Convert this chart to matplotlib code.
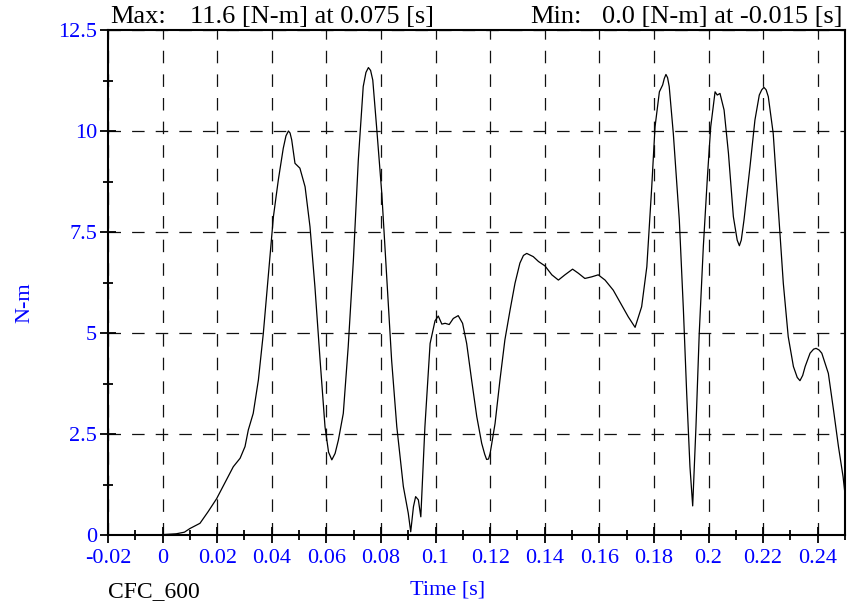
import matplotlib
matplotlib.use("Agg")
import matplotlib.pyplot as plt
from matplotlib.ticker import MultipleLocator, FormatStrFormatter

# torque trace (time [s], torque [N-m])
time_s = [
    -0.015, -0.005, 0.0, 0.005, 0.008, 0.010, 0.0137, 0.0167, 0.0198, 0.0225,
    0.0259, 0.0284, 0.0302, 0.0314, 0.0332, 0.0351, 0.0369, 0.0387, 0.0406,
    0.0424, 0.0442, 0.0452, 0.0461, 0.0467, 0.0473, 0.0485, 0.0503, 0.0522,
    0.0540, 0.0558, 0.0577, 0.0595, 0.0608, 0.0620, 0.0632, 0.0644, 0.0662,
    0.0680, 0.0699, 0.0717, 0.0735, 0.0745, 0.0754, 0.0762, 0.0770, 0.0784,
    0.0803, 0.0821, 0.0839, 0.0858, 0.0882, 0.0900, 0.0909, 0.0919, 0.0927,
    0.0937, 0.0946, 0.0961, 0.0980, 0.0998, 0.1010, 0.1023, 0.1035, 0.1050,
    0.1065, 0.1083, 0.1099, 0.1114, 0.1132, 0.1151, 0.1169, 0.1180, 0.1187,
    0.1194, 0.1200, 0.1218, 0.1236, 0.1254, 0.1273, 0.1291, 0.1309, 0.1322,
    0.1334, 0.1358, 0.1377, 0.1401, 0.1426, 0.1450, 0.1474, 0.1502, 0.1523,
    0.1547, 0.1572, 0.1596, 0.1621, 0.1651, 0.1682, 0.1706, 0.1731, 0.1755,
    0.1774, 0.1792, 0.1804, 0.1820, 0.1832, 0.1838, 0.1844, 0.1850, 0.1856,
    0.1871, 0.1893, 0.1908, 0.1920, 0.1932, 0.1942, 0.1954, 0.1966, 0.1981,
    0.1996, 0.2008, 0.2024, 0.2032, 0.2042, 0.2057, 0.2073, 0.2091, 0.2105,
    0.2113, 0.2120, 0.2130, 0.2152, 0.2170, 0.2186, 0.2195, 0.2203, 0.2211,
    0.2219, 0.2237, 0.2256, 0.2274, 0.2292, 0.2311, 0.2325, 0.2335, 0.2345,
    0.2354, 0.2372, 0.2385, 0.2394, 0.2405, 0.2415, 0.2439, 0.2458, 0.2476,
    0.2493, 0.2501,
]
torque_nm = [
    0.0, 0.0, 0.01, 0.03, 0.07, 0.16, 0.29, 0.58, 0.90, 1.25,
    1.69, 1.90, 2.19, 2.60, 3.01, 3.84, 4.99, 6.39, 7.88,
    8.79, 9.57, 9.88, 10.0, 9.95, 9.78, 9.20, 9.08, 8.62,
    7.63, 6.15, 4.33, 2.68, 2.05, 1.86, 2.02, 2.35, 3.01,
    4.66, 6.81, 9.28, 11.1, 11.45, 11.57, 11.5, 11.26, 10.1,
    8.46, 6.39, 4.33, 2.68, 1.20, 0.54, 0.08, 0.70, 0.95,
    0.87, 0.45, 2.68, 4.74, 5.30, 5.42, 5.22, 5.24, 5.21,
    5.36, 5.43, 5.24, 4.74, 3.84, 2.93, 2.27, 2.0, 1.87,
    1.88, 2.02, 2.76, 3.84, 4.83, 5.57, 6.23, 6.73, 6.92,
    6.97, 6.89, 6.77, 6.66, 6.44, 6.31, 6.44, 6.58, 6.48,
    6.35, 6.39, 6.44, 6.31, 6.06, 5.69, 5.40, 5.14, 5.65,
    6.64, 8.62, 10.1, 10.97, 11.14, 11.3, 11.4, 11.32, 11.10,
    9.94, 7.80, 5.57, 3.51, 1.69, 0.72, 2.68, 4.99, 7.14,
    8.87, 10.1, 10.97, 10.89, 10.93, 10.52, 9.45, 7.88, 7.3,
    7.16, 7.3, 7.80, 9.12, 10.27, 10.89, 11.02, 11.08, 11.02,
    10.85, 9.94, 8.04, 6.23, 4.91, 4.17, 3.9, 3.82, 3.95,
    4.17, 4.50, 4.6, 4.62, 4.58, 4.50, 4.00, 3.09, 2.19,
    1.44, 0.95,
]

max_text = "11.6 [N-m] at 0.075 [s]"
min_text = "0.0 [N-m] at -0.015 [s]"
filter_name = "CFC_600"

BLUE = "#0000ff"
plt.rcParams["font.family"] = ["Liberation Serif", "DejaVu Serif"]
plt.rcParams["lines.scale_dashes"] = False

fig = plt.figure(figsize=(8.58, 6.08), dpi=100)
ax = fig.add_axes([108 / 858, 73 / 608, 737 / 858, 505 / 608])

ax.plot(time_s, torque_nm, color="black", linewidth=0.9)

ax.set_xlim(-0.02, 0.25)
ax.set_ylim(0, 12.5)
ax.xaxis.set_major_locator(MultipleLocator(0.02))
ax.xaxis.set_minor_locator(MultipleLocator(0.01))
ax.yaxis.set_major_locator(MultipleLocator(2.5))
ax.yaxis.set_minor_locator(MultipleLocator(1.25))
ax.xaxis.set_major_formatter(FormatStrFormatter("%g"))
ax.yaxis.set_major_formatter(FormatStrFormatter("%g"))

ax.grid(True, which="major", color="#111111", linewidth=0.9,
        linestyle=(0, (9, 8)))
for s in ax.spines.values():
    s.set_linewidth(1.5)

ax.tick_params(which="major", direction="inout", length=12, width=1.3,
               labelsize=16, labelcolor=BLUE, pad=4)
ax.tick_params(which="minor", direction="inout", length=7, width=1.3)
ax.tick_params(axis="y", which="major", pad=2)

fig.text(25 / 858, 1 - 303 / 608, "N-m", color=BLUE, fontsize=16,
         rotation=90, ha="center", va="center")
fig.text(448 / 858, 1 - 590 / 608, "Time [s]", color=BLUE, fontsize=16,
         ha="center", va="center")
fig.text(108 / 858, 1 - 592 / 608, filter_name, color="black", fontsize=17,
         ha="left", va="center")

fig.text(110 / 858, 1 - 23 / 608, "Max:", fontsize=19, ha="left",
         va="baseline")
fig.text(190 / 858, 1 - 23 / 608, max_text, fontsize=19, ha="left",
         va="baseline")
fig.text(530 / 858, 1 - 23 / 608, "Min:", fontsize=19, ha="left",
         va="baseline")
fig.text(843 / 858, 1 - 23 / 608, min_text, fontsize=19, ha="right",
         va="baseline")

fig.savefig("out.png", dpi=100)
